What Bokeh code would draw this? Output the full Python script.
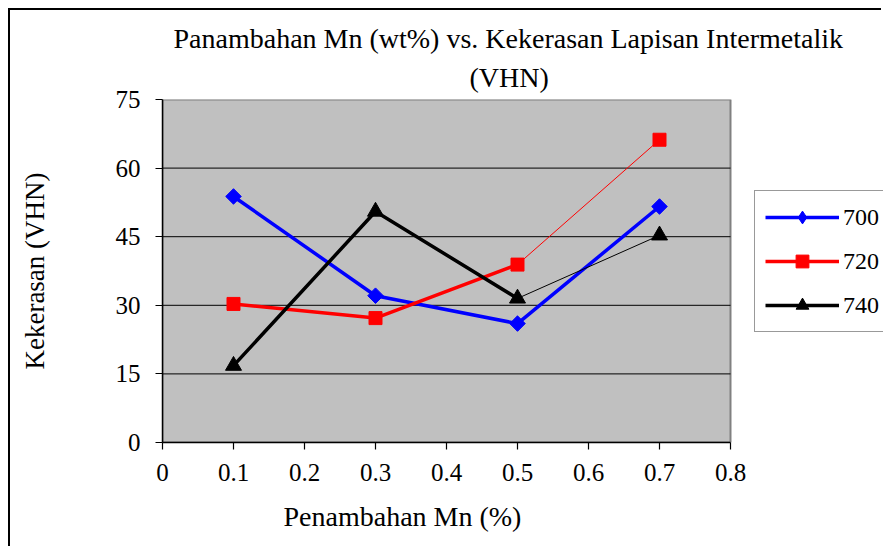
import math

from bokeh.plotting import figure
from bokeh.models import Range1d, FixedTicker, Legend, LegendItem, Title
from bokeh.embed import file_html
from bokeh.resources import INLINE

# Mn addition (%) and hardness of the intermetallic layer (VHN) per temperature
mn_pct = [0.1, 0.3, 0.5, 0.7]
vhn_700 = [53.8, 32.1, 26.0, 51.6]
vhn_720 = [30.3, 27.2, 38.9, 66.2]
vhn_740 = [16.8, 50.5, 31.5, 45.3]

x_ticks = [0, 0.1, 0.2, 0.3, 0.4, 0.5, 0.6, 0.7, 0.8]
x_tick_labels = ["0", "0.1", "0.2", "0.3", "0.4", "0.5", "0.6", "0.7", "0.8"]
y_ticks = [0, 15, 30, 45, 60, 75]
grid_ticks = [15, 30, 45, 60]

title_line1 = "Panambahan Mn (wt%) vs. Kekerasan Lapisan Intermetalik"
title_line2 = "(VHN)"
x_title = "Penambahan Mn (%)"
y_title = "Kekerasan (VHN)"

FONT = "Liberation Serif"

# the chart sits inside a thin black page border drawn with CSS
OX, OY = 10, 10
W, H = 883 - OX, 548 - OY
LEFT, TOP, BOTTOM = 162 - OX, 99 - OY, 442 - OY
PLOT_RIGHT = 730 - OX          # pixel where x = 0.8 ends
x_min, x_max = x_ticks[0], x_ticks[-1]
y_min, y_max = y_ticks[0], y_ticks[-1]

# the frame runs to the right edge so the legend can sit beside the plot area;
# the x range is widened so that the axis still ends at 0.8 at PLOT_RIGHT
x_end = x_max * (W - LEFT) / (PLOT_RIGHT - LEFT)

p = figure(width=W, height=H, output_backend="svg", toolbar_location=None,
           title=None,
           x_range=Range1d(x_min, x_end), y_range=Range1d(y_min, y_max),
           min_border_left=LEFT, min_border_right=0,
           min_border_top=TOP, min_border_bottom=H - BOTTOM)
p.styles = {"margin-left": "8px", "margin-top": "8px",
            "border-left": "2px solid #000000", "border-top": "2px solid #000000"}
p.background_fill_color = "white"
p.border_fill_color = "white"
p.outline_line_color = None

# grey plot area with its grey border
p.quad(left=x_min, right=x_max, bottom=y_min, top=y_max,
       fill_color="#C0C0C0", line_color="#808080", line_width=2)

# horizontal gridlines across the plot area
p.segment(x0=[x_min] * len(grid_ticks), x1=[x_max] * len(grid_ticks),
          y0=grid_ticks, y1=grid_ticks, line_color="black", line_width=1)
p.xgrid.visible = False
p.ygrid.visible = False

# axes
for ax in (p.xaxis[0], p.yaxis[0]):
    ax.axis_line_color = "black"
    ax.axis_line_width = 1.5
    ax.major_tick_line_color = "black"
    ax.major_tick_line_width = 1.2
    ax.major_tick_out = 7
    ax.major_tick_in = 0
    ax.minor_tick_line_color = None
    ax.major_label_text_font = FONT
    ax.major_label_text_font_size = "25px"
    ax.major_label_text_color = "black"
p.xaxis.ticker = FixedTicker(ticks=x_ticks)
p.xaxis.bounds = (x_min, x_max)
p.xaxis.major_label_overrides = {t: s for t, s in zip(x_ticks, x_tick_labels)}
p.xaxis.major_label_standoff = 14
p.yaxis.ticker = FixedTicker(ticks=y_ticks)
p.yaxis.major_label_standoff = 15
p.yaxis.axis_label = y_title
p.yaxis.axis_label_standoff = 63
p.yaxis.axis_label_text_font = FONT
p.yaxis.axis_label_text_font_style = "normal"
p.yaxis.axis_label_text_font_size = "27px"
p.yaxis.axis_label_text_color = "black"

# x-axis title, placed under the 0..0.8 axis
p.add_layout(Title(text=x_title, align="left", offset=121, standoff=31,
                   text_font=FONT, text_font_size="28px", text_font_style="normal",
                   text_color="black"), "below")

# two-line chart title (the one added later sits further out, so add line 2 first)
p.add_layout(Title(text=title_line2, align="left", offset=307, standoff=14,
                   text_font=FONT, text_font_size="28px", text_font_style="normal",
                   text_color="black"), "above")
p.add_layout(Title(text=title_line1, align="left", offset=11, standoff=-3,
                   text_font=FONT, text_font_size="28px", text_font_style="normal",
                   text_color="black"), "above")

THICK, THIN = 3.5, 1
BLUE, RED, BLACK = "#0000FF", "#FF0000", "#000000"

# 700: thick line throughout
l700 = p.line(mn_pct, vhn_700, line_color=BLUE, line_width=THICK)
k700 = p.scatter(mn_pct, vhn_700, marker="diamond", size=11,
                 fill_color=BLUE, line_color=BLUE)
p.scatter(mn_pct, vhn_700, marker="square", angle=math.pi / 4, size=11,
          fill_color=BLUE, line_color=BLUE)

# 720: thick up to 0.5, thin last segment
l720 = p.line(mn_pct[:3], vhn_720[:3], line_color=RED, line_width=THICK)
p.line(mn_pct[2:], vhn_720[2:], line_color=RED, line_width=THIN)
k720 = p.scatter(mn_pct, vhn_720, marker="square", size=13,
                 fill_color=RED, line_color=RED)

# 740: thick up to 0.5, thin last segment
l740 = p.line(mn_pct[:3], vhn_740[:3], line_color=BLACK, line_width=THICK)
p.line(mn_pct[2:], vhn_740[2:], line_color=BLACK, line_width=THIN)
k740 = p.scatter(mn_pct, vhn_740, marker="triangle", size=16,
                 fill_color=BLACK, line_color=BLACK)

legend = Legend(items=[LegendItem(label="700", renderers=[l700, k700]),
                       LegendItem(label="720", renderers=[l720, k720]),
                       LegendItem(label="740", renderers=[l740, k740])],
                location=(754 - 162, 442 - 332),
                padding=10, spacing=12, glyph_width=74, glyph_height=32,
                label_standoff=4, label_text_font=FONT,
                label_text_font_size="24px", label_text_color="black",
                border_line_color="#333333", border_line_width=1.2,
                background_fill_color="white", background_fill_alpha=1, margin=0)
p.add_layout(legend, "center")

open("out.html", "w").write(file_html(p, INLINE))
